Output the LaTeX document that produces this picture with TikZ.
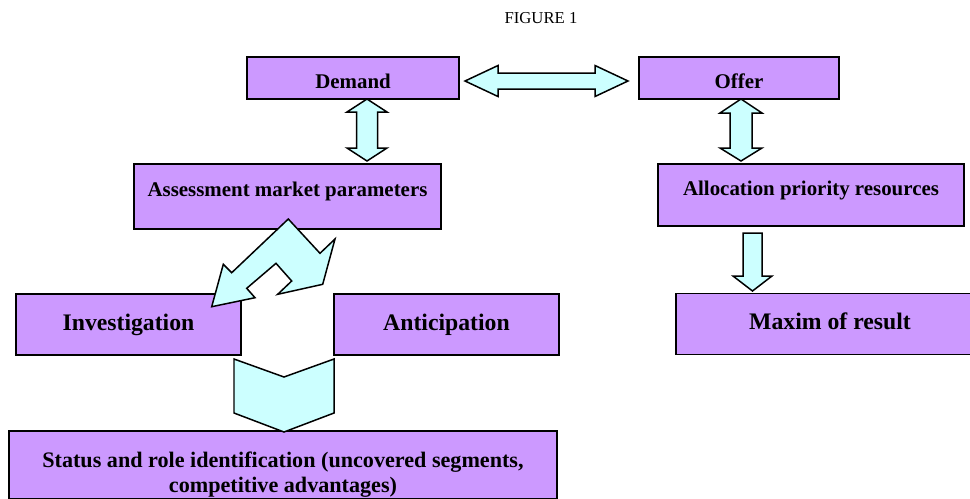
\documentclass[tikz,border=0pt]{standalone}
\usepackage{fontspec}
\setmainfont{Liberation Serif}
\usepackage{tikz}
\usetikzlibrary{arrows.meta,positioning,calc}
\definecolor{lilac}{HTML}{CC99FF}
\definecolor{paleaqua}{HTML}{CCFFFF}
\tikzset{
    every picture/.style={line join=miter},
    stagebox/.style={draw=black,fill=lilac,line width=1pt,inner sep=0pt,
      align=center,font=\bfseries\fontsize{13.5}{16}\selectfont,
      text height=9.5pt,text depth=3pt},
    smallbox/.style={stagebox,font=\bfseries\fontsize{11.9}{14}\selectfont},
    blockarrow/.style={draw=black,fill=paleaqua,line width=0.85pt}
}
\begin{document}
\begin{tikzpicture}[x=0.02cm,y=-0.02cm]
  \useasboundingbox (0,0) rectangle (970,498);
  \node[font=\fontsize{9.5}{11}\selectfont] (fig) at (541,18) {FIGURE 1};

  % top row
  \node[smallbox,minimum width=4.24cm,minimum height=0.84cm,text height=12pt,text depth=0pt]
    (demand) at (353,78) {Demand};
  \node[smallbox,minimum width=4cm,minimum height=0.84cm,text height=12pt,text depth=0pt]
    (offer) at (739,78) {Offer};
  \node[smallbox,minimum width=6.14cm,minimum height=1.3cm,text height=10pt,text depth=10pt]
    (assess) at (287.5,196.5) {Assessment market parameters};
  \node[smallbox,minimum width=6.12cm,minimum height=1.24cm,text height=10pt,text depth=10pt]
    (alloc) at (811,195) {Allocation priority resources};

  % lower rows
  \node[stagebox,minimum width=4.5cm,minimum height=1.22cm] (invest) at (128.5,324.5) {Investigation};
  \node[stagebox,minimum width=4.5cm,minimum height=1.22cm] (antic) at (446.5,324.5) {Anticipation};
  \node[stagebox,minimum width=6.16cm,minimum height=1.22cm] (maxim) at (830,324) {Maxim of result};
  \node[stagebox,minimum width=10.96cm,minimum height=1.36cm,text height=34.6pt,text depth=3.5pt,
    font=\bfseries\fontsize{12.6}{14.2}\selectfont]
    (status) at (283,465) {Status and role identification (uncovered segments,\\ competitive advantages)};

  % block arrows
  \draw[blockarrow] (465,81) -- (498,65.5) -- (498,73) -- (595,73) -- (595,65.5) -- (628,81)
    -- (595,96.5) -- (595,89) -- (498,89) -- (498,96.5) -- cycle;
  \draw[blockarrow] (367,99) -- (387,112) -- (377.5,112) -- (377.5,148) -- (387,148) -- (367,161)
    -- (347,148) -- (356.5,148) -- (356.5,112) -- (347,112) -- cycle;
  \draw[blockarrow] (741,99) -- (762,113) -- (752,113) -- (752,148) -- (762,148) -- (741,161)
    -- (720,148) -- (730,148) -- (730,113) -- (720,113) -- cycle;
  \draw[blockarrow] (743,233) -- (762,233) -- (762,276) -- (772,276) -- (752.5,291)
    -- (733,276) -- (743,276) -- cycle;
  \draw[blockarrow] (234,359) -- (284,377) -- (334,359) -- (334,413) -- (284,432)
    -- (234,413) -- cycle;

  % split arrow out of the assessment box
  \draw[blockarrow] (288.3,219) -- (320,253.3) -- (335,239) -- (322.7,284.3) -- (277.7,294.3)
    -- (291.7,281) -- (276,263.3) -- (246.7,288.3) -- (255,297.7) -- (211.7,306.7)
    -- (223.3,264.3) -- (231.7,272.7) -- cycle;
\end{tikzpicture}
\end{document}
